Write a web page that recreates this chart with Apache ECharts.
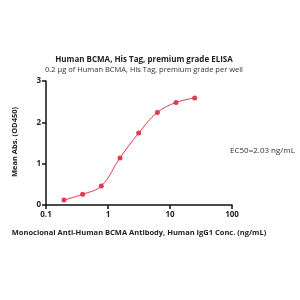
<!DOCTYPE html>
<html><head><meta charset="utf-8">
<script src="https://cdn.jsdelivr.net/npm/echarts@6/dist/echarts.min.js"></script>
<style>html,body{margin:0;padding:0;background:#fff}#c{width:300px;height:300px}</style>
</head><body><div id="c"></div>
<script>
var concentrations = [0.195, 0.39, 0.78, 1.5625, 3.125, 6.25, 12.5, 25];
var absorbance = [0.12, 0.26, 0.46, 1.14, 1.74, 2.24, 2.48, 2.59];
var xTicks = [0.1, 1, 10, 100];
var yTicks = [0, 1, 2, 3];
var titleText = 'Human BCMA, His Tag, premium grade ELISA';
var subtitleText = '0.2 \u03bcg of Human BCMA, His Tag, premium grade per well';
var xName = 'Monoclonal Anti-Human BCMA Antibody, Human IgG1 Conc. (ng/mL)';
var yName = 'Mean Abs. (OD450)';
var ec50Text = 'EC50=2.03 ng/mL';

var pts = concentrations.map(function(c, i){ return [c, absorbance[i]]; });
var color = '#e23a52';
var font = 'Open Sans';
var chart = echarts.init(document.getElementById('c'), null, {renderer:'canvas'});
chart.setOption({
  animation: false,
  backgroundColor: '#fff',
  title: [
    {text: titleText, left: 139, top: 51, textAlign: 'center',
     textStyle: {fontSize: 8, fontWeight: 'bold', color: '#222', fontFamily: font}},
    {text: subtitleText, left: 139, top: 61, textAlign: 'center',
     textStyle: {fontSize: 7.5, fontWeight: 'normal', color: '#333', fontFamily: font}}
  ],
  graphic: [
    {type: 'text', x: 230, y: 151, style: {text: ec50Text, font: '8px "Open Sans"', fill: '#333', textVerticalAlign: 'middle'}},
    {type: 'text', x: 139, y: 233, style: {text: xName, font: 'bold 7.5px "Open Sans"', fill: '#222', textAlign: 'center', textVerticalAlign: 'middle'}},
    {type: 'text', x: 15, y: 142, rotation: Math.PI/2, style: {text: yName, font: 'bold 7.5px "Open Sans"', fill: '#222', textAlign: 'center', textVerticalAlign: 'middle'}}
  ],
  grid: {left: 46, right: 68, top: 81, bottom: 95},
  xAxis: {
    type: 'log', logBase: 10, min: xTicks[0], max: xTicks[xTicks.length-1],
    axisLine: {show: true, lineStyle: {color: '#111', width: 1.5}},
    axisTick: {show: true, inside: false, length: 4, lineStyle: {color: '#111', width: 1.5}},
    minorTick: {show: false},
    splitLine: {show: false},
    axisLabel: {fontSize: 8, fontWeight: 'bold', color: '#222', fontFamily: font, margin: 6,
      formatter: function(v){ return String(v); }}
  },
  yAxis: {
    type: 'value', min: yTicks[0], max: yTicks[yTicks.length-1], interval: 1,
    axisLine: {show: true, lineStyle: {color: '#111', width: 1.5}},
    axisTick: {show: true, inside: false, length: 4, lineStyle: {color: '#111', width: 1.5}},
    splitLine: {show: false},
    axisLabel: {fontSize: 8, fontWeight: 'bold', color: '#222', fontFamily: font, margin: 5}
  },
  series: [{
    type: 'line', data: pts, smooth: 0.4,
    symbol: 'circle', symbolSize: 5,
    lineStyle: {color: color, width: 1},
    itemStyle: {color: color}
  }]
});
</script></body></html>
